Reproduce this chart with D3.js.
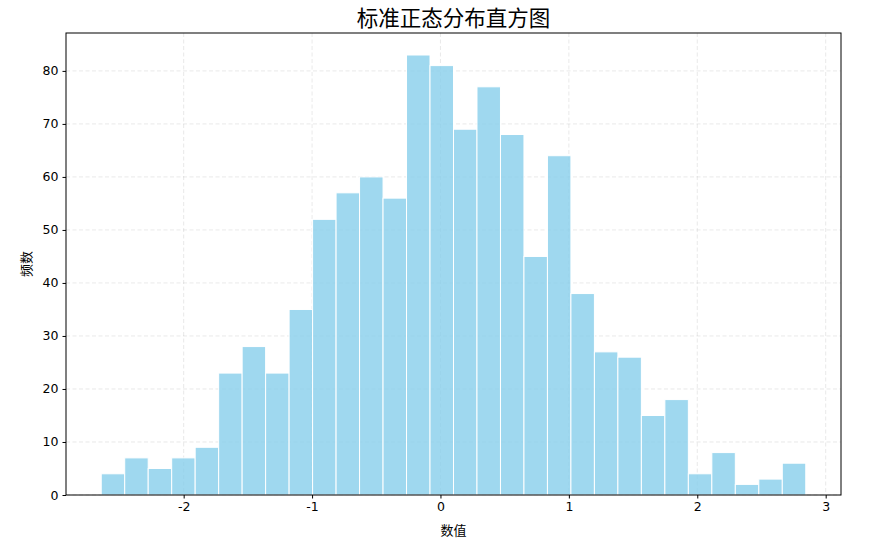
<!DOCTYPE html>
<html><head><meta charset="utf-8">
<script src="https://cdn.jsdelivr.net/npm/d3@7"></script>
<style>body{margin:0;background:#fff;}svg{display:block;}</style>
</head><body>
<script>
const binStart = -2.642;
const binWidth = 0.18290;
const counts = [4,7,5,7,9,23,28,23,35,52,57,60,56,83,81,69,77,68,45,64,38,27,26,15,18,4,8,2,3,6];
const xTicks = [-2,-1,0,1,2,3];
const yTicks = [0,10,20,30,40,50,60,70,80];
const title = "标准正态分布直方图";
const xLabel = "数值";
const yLabel = "频数";

const W = 880, H = 543;
const m = {left:66, right:39, top:33, bottom:48};
const svg = d3.select("body").append("svg").attr("width",W).attr("height",H);
const bins = counts.map((c,i)=>({x0:binStart+i*binWidth, x1:binStart+(i+1)*binWidth, c}));
const lo = bins[0].x0, hi = bins[bins.length-1].x1, span = hi-lo;
const x = d3.scaleLinear().domain([lo-0.05*span, hi+0.05*span]).range([m.left, W-m.right]);
const y = d3.scaleLinear().domain([0, d3.max(counts)*1.05]).range([H-m.bottom, m.top]);
const font = "'DejaVu Sans','Noto Sans CJK SC',sans-serif";

// grid
const g = svg.append("g");
g.selectAll("line.gx").data(xTicks).join("line")
  .attr("x1",d=>x(d)).attr("x2",d=>x(d)).attr("y1",m.top).attr("y2",H-m.bottom)
  .attr("stroke","#b0b0b0").attr("stroke-opacity",0.35).attr("stroke-dasharray","4,2.5").attr("stroke-width",0.8);
g.selectAll("line.gy").data(yTicks).join("line")
  .attr("y1",d=>y(d)).attr("y2",d=>y(d)).attr("x1",m.left).attr("x2",W-m.right)
  .attr("stroke","#b0b0b0").attr("stroke-opacity",0.35).attr("stroke-dasharray","4,2.5").attr("stroke-width",0.8);

// bars
svg.append("g").selectAll("rect").data(bins).join("rect")
  .attr("x",d=>x(d.x0)).attr("width",d=>x(d.x1)-x(d.x0))
  .attr("y",d=>y(d.c)).attr("height",d=>y(0)-y(d.c))
  .attr("fill","#87CEEB").attr("fill-opacity",0.8)
  .attr("stroke","#ffffff").attr("stroke-width",1);

// frame
svg.append("rect").attr("x",m.left).attr("y",m.top).attr("width",W-m.left-m.right).attr("height",H-m.top-m.bottom)
  .attr("fill","none").attr("stroke","#000").attr("stroke-width",1);

// axes
const xa = svg.append("g").attr("transform",`translate(0,${H-m.bottom})`)
  .call(d3.axisBottom(x).tickValues(xTicks).tickSize(3.5).tickPadding(4).tickFormat(d=>d3.format("d")(d).replace("−","-")));
const ya = svg.append("g").attr("transform",`translate(${m.left},0)`)
  .call(d3.axisLeft(y).tickValues(yTicks).tickSize(3.5).tickPadding(4).tickFormat(d3.format("d")));
[xa,ya].forEach(a=>{a.select(".domain").remove();a.selectAll("text").attr("font-family",font).attr("font-size",12.5).attr("fill","#000");a.selectAll("line").attr("stroke","#000");});

svg.append("text").attr("x",(m.left+W-m.right)/2).attr("y",26).attr("text-anchor","middle")
  .attr("font-family",font).attr("font-size",21.5).text(title);
svg.append("text").attr("x",(m.left+W-m.right)/2).attr("y",535).attr("text-anchor","middle")
  .attr("font-family",font).attr("font-size",13).text(xLabel);
svg.append("text").attr("transform",`translate(31,${(m.top+H-m.bottom)/2}) rotate(-90)`).attr("text-anchor","middle")
  .attr("font-family",font).attr("font-size",13).text(yLabel);
</script>
</body></html>
